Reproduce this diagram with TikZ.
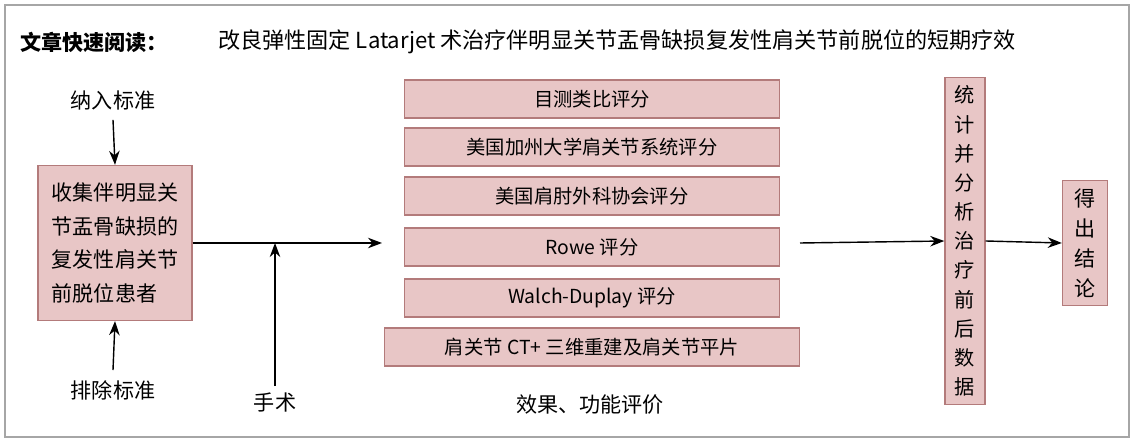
\documentclass[tikz,border=0pt]{standalone}
\usepackage{fontspec}
\setmainfont{Noto Sans CJK SC}
\usetikzlibrary{arrows.meta}
\definecolor{pinkf}{HTML}{E8C6C6}
\definecolor{pinkd}{HTML}{B37B7B}
\begin{document}
\begin{tikzpicture}[x=0.02cm,y=-0.02cm,
 pbox/.style={draw=pinkd,fill=pinkf,line width=0.8pt,inner sep=0pt,font=\fontsize{11}{13}\selectfont},
 lab/.style={font=\fontsize{11}{13}\selectfont},
 arr/.style={-{Stealth[length=8pt,width=6pt]},line width=0.8pt}]
\useasboundingbox (0,0) rectangle (1134,442);
\draw[line width=0.8pt,gray!70] (5,5) rectangle (1129,437);
\node[anchor=west,font=\fontsize{12}{14}\selectfont\bfseries] (t1) at (14,42) {文章快速阅读：};
\node[anchor=west,font=\fontsize{12.6}{14}\selectfont] (t2) at (212,42) {改良弹性固定 Latarjet 术治疗伴明显关节盂骨缺损复发性肩关节前脱位的短期疗效};
\node[pbox,minimum width=3.08cm,minimum height=3.1cm,align=left,font=\fontsize{12}{19}\selectfont] (L) at (115,243) {收集伴明显关\\节盂骨缺损的\\复发性肩关节\\前脱位患者};
\node[lab,font=\fontsize{12}{14}\selectfont] (in) at (113,100) {纳入标准};
\node[lab,font=\fontsize{12}{14}\selectfont] (ex) at (113,390) {排除标准};
\draw[arr] (in.south) ++(0,4) coordinate (ia) -- (L.north);
\draw[arr] (ex.north) ++(0,-4) coordinate (ea) -- (L.south);
\coordinate (m1) at (382,243);
\draw[arr] (L.east) -- (m1);
\node[lab,font=\fontsize{12}{14}\selectfont] (ss) at (275,402) {手术};
\coordinate (sj) at (275,243);
\draw[arr] (ss.north) -- (sj);
\foreach \n/\y/\t in {a/99/目测类比评分,b/147/美国加州大学肩关节系统评分,c/196/美国肩肘外科协会评分,d/247/Rowe 评分,e/298/Walch-Duplay 评分}{
 \node[pbox,minimum width=7.5cm,minimum height=0.76cm] (\n) at (592,\y) {\t};}
\node[pbox,minimum width=8.3cm,minimum height=0.76cm] (f) at (592,347) {肩关节 CT+ 三维重建及肩关节平片};
\node[lab,font=\fontsize{12}{14}\selectfont] (xg) at (590,405) {效果、功能评价};
\node[pbox,minimum width=0.8cm,minimum height=6.54cm,align=center,font=\fontsize{11.5}{16.6}\selectfont] (S) at (965,241) {统\\计\\并\\分\\析\\治\\疗\\前\\后\\数\\据};
\node[pbox,minimum width=0.9cm,minimum height=2.5cm,align=center,font=\fontsize{12}{17}\selectfont] (R) at (1085,243) {得\\出\\结\\论};
\coordinate (m2) at (800,243);
\draw[arr] (m2) -- (S.west);
\draw[arr] (S.east) -- (R.west);
\end{tikzpicture}
\end{document}
